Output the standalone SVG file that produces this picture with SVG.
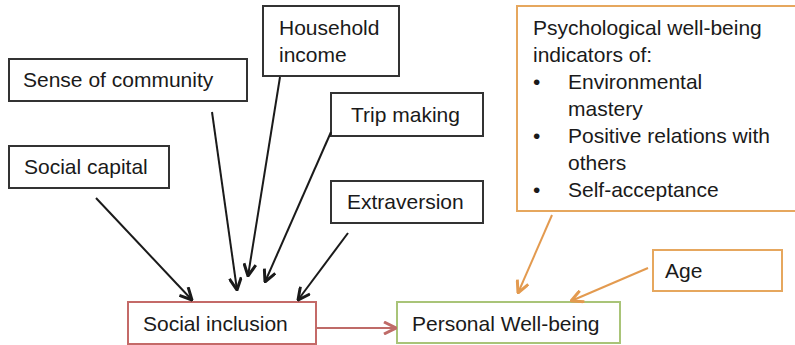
<svg xmlns="http://www.w3.org/2000/svg" width="795" height="345" viewBox="0 0 795 345">
<style>
text{font-family:"Liberation Sans",Arial,sans-serif;font-size:21px;fill:#1a1a1a}
.bk{fill:#fff;stroke:#333;stroke-width:2}
.rd{fill:#fff;stroke:#c46a68;stroke-width:2}
.gr{fill:#fff;stroke:#a9c478;stroke-width:2}
.or{fill:#fff;stroke:#e6a75e;stroke-width:2}
.cb{stroke:#1a1a1a;stroke-width:2;fill:none}
.cr{stroke:#bf6b68;stroke-width:2;fill:none}
.co{stroke:#e39a4f;stroke-width:2;fill:none}
</style>
<defs>
<marker id="ab" viewBox="0 0 14 14" refX="13" refY="7" markerWidth="14" markerHeight="14" markerUnits="userSpaceOnUse" orient="auto"><path d="M1,1 L13,7 L1,13" fill="none" stroke="#1a1a1a" stroke-width="3"/></marker>
<marker id="ar" viewBox="0 0 14 14" refX="13" refY="7" markerWidth="14" markerHeight="14" markerUnits="userSpaceOnUse" orient="auto"><path d="M1,1 L13,7 L1,13" fill="none" stroke="#bf6b68" stroke-width="3"/></marker>
<marker id="ao" viewBox="0 0 14 14" refX="13" refY="7" markerWidth="14" markerHeight="14" markerUnits="userSpaceOnUse" orient="auto"><path d="M1,1 L13,7 L1,13" fill="none" stroke="#e39a4f" stroke-width="3"/></marker>
</defs>
<g id="household-income"><rect class="bk" x="263" y="6" width="136" height="70"/><text x="279" y="35">Household</text><text x="279" y="62">income</text></g>
<g id="sense-of-community"><rect class="bk" x="9" y="59" width="238" height="42"/><text x="23" y="87">Sense of community</text></g>
<g id="social-capital"><rect class="bk" x="9" y="146" width="160" height="42"/><text x="24" y="174">Social capital</text></g>
<g id="trip-making"><rect class="bk" x="331" y="93" width="152" height="43"/><text x="351" y="122">Trip making</text></g>
<g id="extraversion"><rect class="bk" x="331" y="181" width="152" height="42"/><text x="347" y="209">Extraversion</text></g>
<g id="psych-wellbeing"><rect class="or" x="517" y="6" width="290" height="205"/>
<text x="533" y="35">Psychological well-being</text>
<text x="533" y="62">indicators of:</text>
<text x="533" y="89">•</text><text x="568" y="89">Environmental</text>
<text x="568" y="116">mastery</text>
<text x="533" y="143">•</text><text x="568" y="143">Positive relations with</text>
<text x="568" y="170">others</text>
<text x="533" y="197">•</text><text x="568" y="197">Self-acceptance</text></g>
<g id="age"><rect class="or" x="653" y="250" width="129" height="41"/><text x="665" y="278">Age</text></g>
<g id="social-inclusion"><rect class="rd" x="128" y="302" width="188" height="42"/><text x="143" y="331">Social inclusion</text></g>
<g id="personal-wellbeing"><rect class="gr" x="397" y="302" width="223" height="41"/><text x="412" y="331">Personal Well-being</text></g>
<g id="connectors">
<line class="cb" x1="96" y1="198" x2="192" y2="300" marker-end="url(#ab)"/>
<line class="cb" x1="212" y1="112" x2="237" y2="290" marker-end="url(#ab)"/>
<line class="cb" x1="280" y1="77" x2="248" y2="276" marker-end="url(#ab)"/>
<line class="cb" x1="331" y1="132" x2="265" y2="282" marker-end="url(#ab)"/>
<line class="cb" x1="348" y1="233" x2="298" y2="300" marker-end="url(#ab)"/>
<line class="cr" x1="316" y1="328" x2="396" y2="328" marker-end="url(#ar)"/>
<line class="co" x1="552" y1="215" x2="518" y2="293" marker-end="url(#ao)"/>
<line class="co" x1="648" y1="268" x2="571" y2="301" marker-end="url(#ao)"/>
</g>
</svg>
